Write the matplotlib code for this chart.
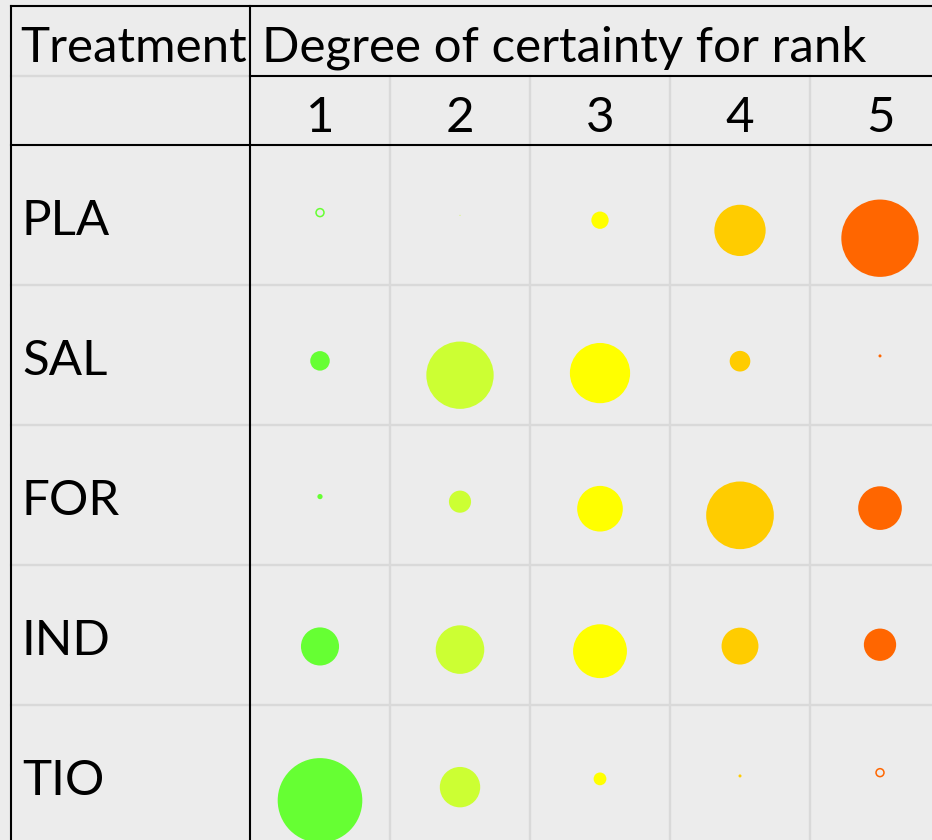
import numpy as np
import matplotlib.pyplot as plt
from matplotlib.patches import Circle

plt.rcParams['font.family'] = ['Lato', 'DejaVu Sans']

treatments = ['PLA', 'SAL', 'FOR', 'IND', 'TIO']
ranks = ['1', '2', '3', '4', '5']
rank_colors = ['#66ff33', '#ccff33', '#ffff00', '#ffcc00', '#ff6600']

# degree of certainty per rank (negative values drawn as open bubbles)
pla = [-0.007, 0.0001, 0.033, 0.29, 0.66]
sal = [0.042, 0.50, 0.40, 0.047, 0.001]
frm = [0.003, 0.054, 0.23, 0.505, 0.21]
ind = [0.16, 0.26, 0.32, 0.15, 0.115]
tio = [0.79, 0.18, 0.018, 0.001, -0.007]

values = np.array([pla, sal, frm, ind, tio])

BG = '#ececec'
GRID = '#d9d9d9'
SCALE = 0.34  # bubble radius (cells) for a value of 1


def main():
    fig = plt.figure(figsize=(9.32, 8.4), dpi=100)
    fig.patch.set_facecolor(BG)
    ax = fig.add_axes([0, 0, 1, 1])
    ax.set_facecolor(BG)
    ax.set_xlim(-1.2857, 5.3714)
    ax.set_ylim(4.464, -1.5357)
    ax.axis('off')

    left, top, mid = -1.2107, -1.493, -0.993
    xr = 5.5
    yb = 4.6
    lw = 1.5

    # light grid
    for j in range(1, len(ranks)):
        ax.plot([j + 0.5, j + 0.5], [mid, yb], color=GRID, lw=1.7, zorder=1)
    for i in range(len(treatments)):
        ax.plot([left, xr], [i + 0.5, i + 0.5], color=GRID, lw=1.7, zorder=1)
    ax.plot([left, 0.5], [mid, mid], color=GRID, lw=1.7, zorder=1)

    # black table lines
    ax.plot([left, xr], [top, top], color='black', lw=lw, zorder=2)
    ax.plot([0.5, xr], [mid, mid], color='black', lw=lw, zorder=2)
    ax.plot([left, xr], [-0.5, -0.5], color='black', lw=lw, zorder=2)
    ax.plot([left, left], [top, yb], color='black', lw=lw, zorder=2)
    ax.plot([0.5, 0.5], [top, yb], color='black', lw=lw, zorder=2)

    fs = 35.5
    ax.text(-1.143, -1.093, 'Treatment', fontsize=fs, va='baseline', ha='left')
    ax.text(0.586, -1.093, 'Degree of certainty for rank', fontsize=fs,
            va='baseline', ha='left')
    for j, r in enumerate(ranks):
        ax.text(j + 1, -0.593, r, fontsize=fs, va='baseline', ha='center')
    for i, t in enumerate(treatments):
        ax.text(-1.1286, i + 0.14, t, fontsize=fs, va='baseline', ha='left')

    # bubbles
    for i in range(len(treatments)):
        for j in range(len(ranks)):
            v = values[i, j]
            rad = SCALE * np.sqrt(abs(v))
            cy = i + 0.6 * rad * np.sign(v)
            if v < 0:
                c = Circle((j + 1, cy), rad, facecolor='none',
                           edgecolor=rank_colors[j], lw=1.1, zorder=3)
            else:
                c = Circle((j + 1, cy), rad, facecolor=rank_colors[j],
                           edgecolor='none', zorder=3)
            ax.add_patch(c)

    fig.savefig('out.png', dpi=100, facecolor=BG)


if __name__ == '__main__':
    main()
